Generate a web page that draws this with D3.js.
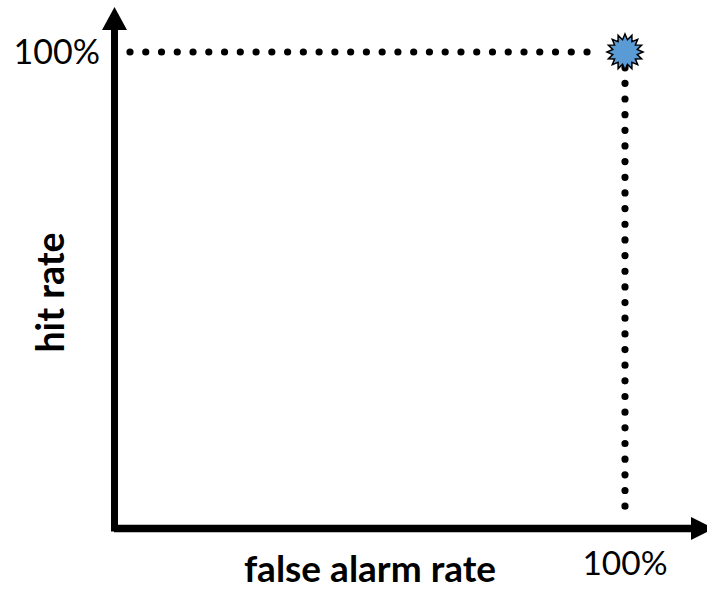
<!DOCTYPE html>
<html><head><meta charset="utf-8">
<script src="https://cdn.jsdelivr.net/npm/d3@7"></script>
<style>html,body{margin:0;padding:0;background:#fff;}svg{display:block;}</style>
</head><body>
<svg id="chart" width="707" height="590"></svg>
<script>
// Data
const xTickLabels = ["100%"];
const yTickLabels = ["100%"];
const xTickValues = [1];
const yTickValues = [1];
const pointX = [1];
const pointY = [1];
const xAxisTitle = "false alarm rate";
const yAxisTitle = "hit rate";

const svg = d3.select("#chart");
const x = d3.scaleLinear().domain([0, 1]).range([114.5, 625]);
const y = d3.scaleLinear().domain([0, 1]).range([528.5, 52]);
const font = "Lato, 'Open Sans', sans-serif";

// dotted guide lines
pointX.forEach((px, i) => {
  const py = pointY[i];
  svg.append("line")
    .attr("x1", x(0) + 15.5).attr("x2", x(px) - 22.3)
    .attr("y1", y(py)).attr("y2", y(py))
    .attr("stroke", "#000").attr("stroke-width", 7.2)
    .attr("stroke-linecap", "round").attr("stroke-dasharray", "0 15.76");
  svg.append("line")
    .attr("x1", x(px)).attr("x2", x(px))
    .attr("y1", y(py) + 15.66).attr("y2", y(py) + 15.66 * 30)
    .attr("stroke", "#000").attr("stroke-width", 7.2)
    .attr("stroke-linecap", "round").attr("stroke-dasharray", "0 15.66");
});

// axes
const x0 = x(0), y0 = y(0);
svg.append("line").attr("x1", x0).attr("x2", x0).attr("y1", y0 + 3).attr("y2", 29)
  .attr("stroke", "#000").attr("stroke-width", 7);
svg.append("path").attr("d", `M${x0 - 12.5},30 L${x0},7 L${x0 + 12.5},30 Z`).attr("fill", "#000");
svg.append("line").attr("x1", x0 - 0.5).attr("x2", 692).attr("y1", y0).attr("y2", y0)
  .attr("stroke", "#000").attr("stroke-width", 7.5);
svg.append("path").attr("d", `M691,${y0 - 11.5} L714,${y0} L691,${y0 + 11.5} Z`).attr("fill", "#000");

// tick labels
svg.selectAll(".xt").data(xTickValues).join("text")
  .attr("x", d => x(d)).attr("y", 575)
  .attr("text-anchor", "middle")
  .attr("font-family", font).attr("font-size", 33.5).attr("fill", "#000")
  .text((d, i) => xTickLabels[i]);
svg.selectAll(".yt").data(yTickValues).join("text")
  .attr("x", 100).attr("y", d => y(d) + 11.5)
  .attr("text-anchor", "end")
  .attr("font-family", font).attr("font-size", 34).attr("fill", "#000")
  .text((d, i) => yTickLabels[i]);

// axis titles
svg.append("text").attr("x", 370).attr("y", 582)
  .attr("text-anchor", "middle").attr("font-family", font)
  .attr("font-weight", "bold").attr("font-size", 37).attr("fill", "#000")
  .text(xAxisTitle);
svg.append("text").attr("transform", "translate(64,292.5) rotate(-90)")
  .attr("text-anchor", "middle").attr("font-family", font)
  .attr("font-weight", "bold").attr("font-size", 37.5).attr("fill", "#000")
  .text(yAxisTitle);

// star marker
const nPts = 16, rOut = 18, rIn = 12.5;
const starPts = d3.range(nPts * 2).map(k => [k * Math.PI / nPts, k % 2 === 0 ? rOut : rIn]);
const starPath = d3.lineRadial().curve(d3.curveLinearClosed)(starPts);
svg.selectAll(".pt").data(pointX).join("path")
  .attr("d", starPath)
  .attr("transform", (d, i) => `translate(${x(d)},${y(pointY[i])})`)
  .attr("fill", "#5B9BD5").attr("stroke", "#000").attr("stroke-width", 1.5);
</script>
</body></html>
